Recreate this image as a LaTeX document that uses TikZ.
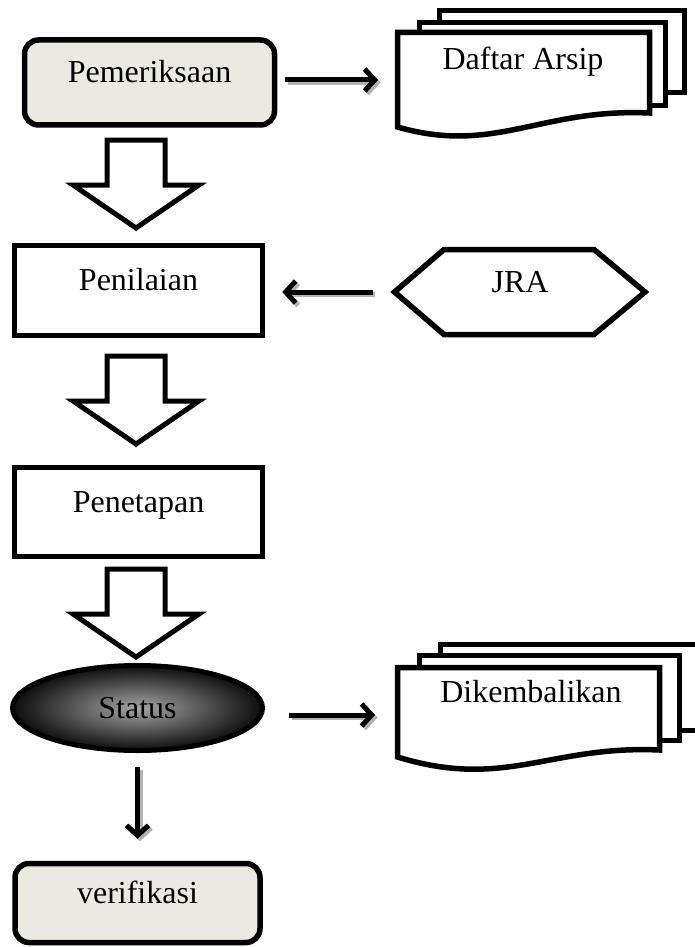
\documentclass[tikz,border=0pt]{standalone}
\usepackage{fontspec}
\setmainfont{Liberation Serif}
\usetikzlibrary{arrows.meta,shapes.geometric}
\usetikzlibrary{positioning}
\definecolor{krem}{RGB}{236,234,224}
\tikzset{
    proses/.style={
           rectangle,
           draw=black, line width=5.5pt,
           fill=white,
           text height=20pt, text depth=20pt,
           },
    awal/.style={
           proses,
           rounded corners=14pt,
           fill=krem,
           },
    halaman/.style={
           draw=black, line width=5.5pt,
           fill=white, line join=miter,
           },
    panah/.style={
           -{Straight Barb[length=10pt,width=22pt]},
           line width=5pt, black,
           },
    bayang/.style={
           panah, draw=gray!60,
           transform canvas={xshift=2.5pt, yshift=-2.5pt},
           },
    blok/.pic={
           \filldraw[color=black, fill=white, line width=5pt, miter limit=10]
              (-29,0) -- (29,0) -- (29,45) -- (63,45) -- (0,88) -- (-63,45) -- (-29,45) -- cycle;
           },
}
\begin{document}
\begin{tikzpicture}[x=1pt, y=-1pt, font=\fontsize{32}{38}\selectfont]
\clip (0,0) rectangle (695,947);
\node[awal, minimum width=250pt, minimum height=85pt] (pem) at (149.5,82.5) {Pemeriksaan};
\node[proses, minimum width=248pt, minimum height=90pt] (pen) at (138.5,290.5) {Penilaian};
\node[proses, minimum width=248pt, minimum height=89pt] (tet) at (138.5,512) {Penetapan};
\node[ellipse, draw=black, line width=5pt, inner color=black!35, outer color=black!95,
      minimum width=250pt, minimum height=85pt] (stat) at (137.5,708) {Status};
\node[awal, minimum width=245pt, minimum height=79pt] (ver) at (137.5,903) {verifikasi};
\coordinate (b1) at (136,140);
\coordinate (b2) at (136,356);
\coordinate (b3) at (136,569);
\pic at (b1) {blok};
\pic at (b2) {blok};
\pic at (b3) {blok};
\filldraw[halaman] (439.5,10.5) rectangle (684.5,92.5);
\filldraw[halaman] (419.5,22.5) rectangle (665.5,105.5);
\filldraw[halaman] (397.5,32.5) -- (649.5,32.5) -- (649.5,113) .. controls (540,108) and (495,155) .. (397.5,127) -- cycle;
\node (daftar) at (523,62) {Daftar Arsip};
\filldraw[halaman] (394.5,292) -- (444,249.5) -- (594,249.5) -- (645,292) -- (594,334.5) -- (444,334.5) -- cycle;
\node[text height=20pt, text depth=20pt] (jra) at (520,292) {JRA};
\filldraw[halaman] (440.5,644.5) rectangle (720,730.5);
\filldraw[halaman] (419.5,655.5) rectangle (679.5,740.5);
\filldraw[halaman] (397.5,667.5) -- (659.5,667.5) -- (659.5,750) .. controls (550,745) and (505,790) .. (397.5,757) -- cycle;
\node (kembali) at (531,692) {Dikembalikan};
\coordinate (a) at (395,80);
\coordinate (c) at (394.5,292);
\coordinate (d) at (395,715);
\draw[bayang, shorten <=8pt, shorten >=17pt] (pem.east |- a) -- (a);
\draw[panah, shorten <=8pt, shorten >=17pt] (pem.east |- a) -- (a);
\draw[bayang, shorten <=22pt, shorten >=17pt] (c) -- (pen.east |- c);
\draw[panah, shorten <=22pt, shorten >=17pt] (c) -- (pen.east |- c);
\draw[bayang, shorten <=24pt, shorten >=20pt] (stat.east |- d) -- (d);
\draw[panah, shorten <=24pt, shorten >=20pt] (stat.east |- d) -- (d);
\draw[bayang, shorten <=14pt, shorten >=22pt] (stat.south) -- (ver.north);
\draw[panah, shorten <=14pt, shorten >=22pt] (stat.south) -- (ver.north);
\end{tikzpicture}
\end{document}
